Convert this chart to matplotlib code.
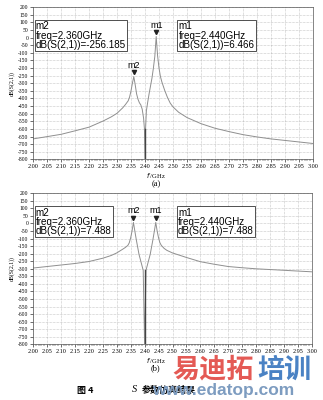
import matplotlib
matplotlib.use("Agg")
import matplotlib.pyplot as plt
from matplotlib.ticker import MultipleLocator
import matplotlib.transforms as mtransforms

# ---- data (a) ----
freq_a = [2.00, 2.05, 2.10, 2.15, 2.20, 2.25, 2.28, 2.30, 2.32, 2.33, 2.34, 2.345,
          2.35, 2.355, 2.36, 2.365, 2.37, 2.375, 2.38, 2.385, 2.39, 2.395, 2.398,
          2.400, 2.402, 2.405, 2.41, 2.415, 2.42, 2.425, 2.43, 2.435, 2.44, 2.445,
          2.45, 2.455, 2.46, 2.47, 2.48, 2.49, 2.50, 2.52, 2.55, 2.60, 2.65, 2.70,
          2.75, 2.80, 2.85, 2.90, 2.95, 3.00]
db_a = [-665, -650, -635, -612, -588, -548, -520, -497, -462, -440, -415, -390,
        -350, -300, -256.185, -310, -370, -405, -428, -442, -470, -530, -600,
        -800, -600, -480, -420, -365, -315, -265, -200, -125, 6.466, -120,
        -200, -255, -290, -345, -392, -430, -455, -490, -525, -565, -595, -617,
        -637, -652, -665, -675, -685, -695]

# ---- data (b) ----
freq_b = [2.00, 2.05, 2.10, 2.15, 2.20, 2.25, 2.28, 2.30, 2.32, 2.33, 2.34, 2.345,
          2.35, 2.355, 2.36, 2.365, 2.37, 2.375, 2.38, 2.385, 2.39, 2.395, 2.40,
          2.405, 2.41, 2.415, 2.42, 2.425, 2.43, 2.435, 2.44, 2.445, 2.45, 2.455,
          2.46, 2.47, 2.48, 2.50, 2.525, 2.55, 2.60, 2.65, 2.70, 2.75, 2.80, 2.85,
          2.90, 2.95, 3.00]
db_b = [-295, -285, -275, -265, -252, -230, -212, -195, -172, -160, -145, -128,
        -95, -50, 7.488, -50, -105, -155, -205, -240, -275, -310, -800,
        -310, -275, -240, -205, -155, -105, -50, 7.488, -50, -95, -128,
        -145, -165, -178, -195, -210, -225, -253, -270, -285, -293, -300, -305,
        -310, -315, -320]

markers_a = {"m1": (2.440, 6.466), "m2": (2.360, -256.185)}
markers_b = {"m1": (2.440, 7.488), "m2": (2.360, 7.488)}

xticks = [2.00 + 0.05 * i for i in range(21)]
xtick_labels = ["%.2f" % v for v in xticks]
yticks = list(range(-800, 201, 50))

W, H = 323, 400
fig = plt.figure(figsize=(W / 100, H / 100), dpi=100)

serif = "Liberation Serif"
sans = "Liberation Sans"


def panel(rect, freq, db, markers, tag):
    ax = fig.add_axes(rect)
    ax.plot(freq, db, color="#8f8f8f", lw=0.7)
    # darker vertical notch near 2.40
    i = db.index(min(db))
    ax.plot([freq[i], freq[i]], [db[i - 1], db[i]], color="#444444", lw=1.0)
    ax.set_xlim(2.0, 3.0)
    ax.set_ylim(-800, 200)
    ax.set_xticks(xticks)
    ax.set_xticklabels(xtick_labels, fontfamily=serif, fontsize=4.4)
    ax.set_yticks(yticks)
    ax.set_yticklabels([str(v) for v in yticks], fontfamily=serif, fontsize=4.0)
    ax.xaxis.set_minor_locator(MultipleLocator(0.01))
    ax.tick_params(axis="both", which="major", length=2, width=0.4, pad=1.5, direction="out")
    ax.tick_params(axis="x", which="minor", length=1.2, width=0.3, direction="out")
    ax.grid(True, which="major", ls=(0, (1, 1.5)), color="#9a9a9a", lw=0.4)
    for s in ax.spines.values():
        s.set_linewidth(0.5)
        s.set_color("#555555")
    ax.set_ylabel("dB(S(2,1))", fontfamily=serif, fontsize=4.2, labelpad=2)
    ax.set_xlabel("$f$ /GHz", fontfamily=serif, fontsize=4.8, labelpad=1)
    ax.xaxis.set_label_coords(0.44, -0.075)
    ax.text(0.44, -0.135, tag, transform=ax.transAxes, ha="center", va="top",
            fontfamily=serif, fontsize=6)
    tr = mtransforms.offset_copy(ax.transData, fig=fig, x=0, y=3, units="points")
    for name, (f, v) in markers.items():
        ax.plot([f], [v], marker="v", color="#222222", ms=3, transform=tr)
        ax.annotate(name, xy=(f, v), xytext=(0, 5), textcoords="offset points",
                    ha="center", va="bottom", fontfamily=sans, fontsize=6.5)
    return ax


ax1 = panel([33 / W, 1 - 159.5 / H, 280 / W, 152.5 / H], freq_a, db_a, markers_a, "(a)")
ax2 = panel([33 / W, 1 - 344.3 / H, 279 / W, 151 / H], freq_b, db_b, markers_b, "(b)")


def box(ax, x, y, name, f, v):
    ax.text(x, y, "%s\nfreq=%.3fGHz\ndB(S(2,1))=%.3f" % (name, f, v),
            transform=ax.transAxes, ha="left", va="top", fontfamily=sans,
            fontsize=7.1, linespacing=0.88,
            bbox=dict(boxstyle="square,pad=0.12", fc="white", ec="#333333", lw=0.6))


box(ax1, 0.01, 0.905, "m2", *markers_a["m2"])
box(ax1, 0.52, 0.905, "m1", *markers_a["m1"])
box(ax2, 0.01, 0.905, "m2", *markers_b["m2"])
box(ax2, 0.52, 0.905, "m1", *markers_b["m1"])

# caption
cjk = ["Noto Sans CJK SC", "DejaVu Sans"]
fig.text(77 / W, 1 - 390 / H, "图 4", ha="left", va="center",
         family=cjk, fontsize=6.5, weight="bold")
fig.text(132 / W, 1 - 390 / H, "S", ha="left", va="center",
         fontfamily=serif, style="italic", fontsize=7.5)
fig.text(142 / W, 1 - 390 / H, "参数仿真结果", ha="left", va="center",
         family=cjk, fontsize=6.5, weight="bold")

# watermark
fig.text(172 / W, 1 - 370 / H, "易迪拓", ha="left", va="center",
         family=["Noto Sans CJK SC"], fontsize=19.5, weight="heavy", color="#e45a55")
fig.text(257 / W, 1 - 370 / H, "培训", ha="left", va="center",
         family=["Noto Sans CJK SC"], fontsize=19.5, weight="heavy", color="#4a82c4")
fig.text(152 / W, 1 - 391 / H, "www.edatop.com", ha="left", va="center",
         fontfamily=sans, fontsize=12.5, weight="bold", color="#7d9cc0")

fig.savefig("out.png", dpi=100)
